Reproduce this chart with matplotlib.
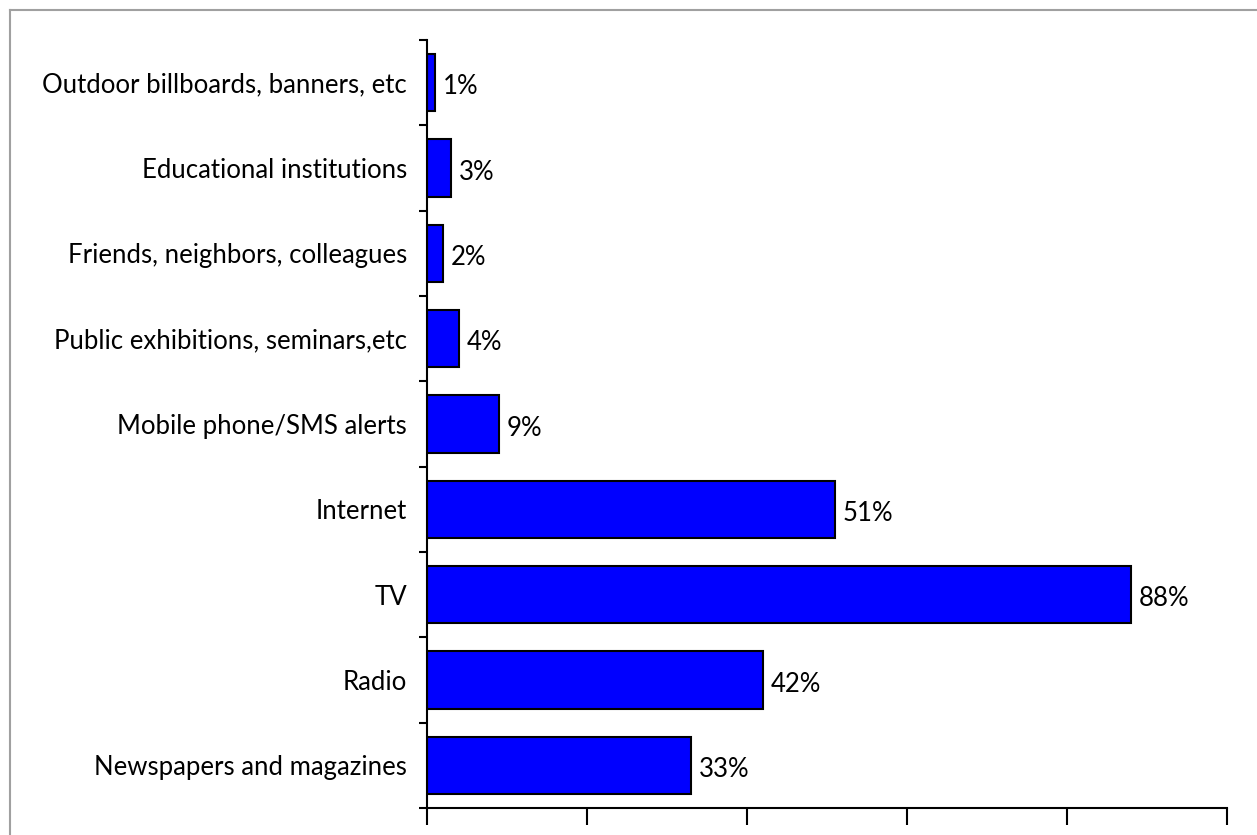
import matplotlib.pyplot as plt
from matplotlib.lines import Line2D
from matplotlib.transforms import ScaledTranslation

categories = ["Newspapers and magazines", "Radio", "TV", "Internet",
              "Mobile phone/SMS alerts", "Public exhibitions, seminars,etc",
              "Friends, neighbors, colleagues", "Educational institutions",
              "Outdoor billboards, banners, etc"]
values = [33, 42, 88, 51, 9, 4, 2, 3, 1]

plt.rcParams['font.family'] = ['Lato', 'DejaVu Sans']

W, H = 1257, 835
fig = plt.figure(figsize=(W / 100, H / 100), dpi=100)
ax = fig.add_axes([427 / W, 27 / H, 800 / W, 768 / H])

y = range(len(categories))
ax.barh(y, values, height=0.67, color="#0000ff", edgecolor="black", linewidth=1.5)
for i, v in enumerate(values):
    ax.annotate(f"{v}%", (v, i), xytext=(5.5, -3), textcoords="offset points",
                va="center", ha="left", fontsize=18.5)

ax.set_xlim(0, 100)
ax.set_ylim(-0.5, len(categories) - 0.5)
ax.set_xticks(range(0, 101, 20))
ax.set_xticklabels([])
ax.set_yticks([i - 0.5 for i in range(len(categories) + 1)])
ax.set_yticklabels([])
ax.set_yticks(list(y), minor=True)
ax.set_yticklabels(categories, minor=True, fontsize=18.5)
# nudge the category labels slightly down, like the original
shift = ScaledTranslation(0, -4 / 100, fig.dpi_scale_trans)
for lbl in ax.get_yticklabels(minor=True):
    lbl.set_transform(lbl.get_transform() + shift)
ax.tick_params(axis="y", which="minor", length=0, pad=14.5)
ax.tick_params(axis="y", which="major", length=6, width=1.5, direction="out")
ax.tick_params(axis="x", length=12, width=1.5, direction="out")
for s in ["top", "right"]:
    ax.spines[s].set_visible(False)
for s in ["left", "bottom"]:
    ax.spines[s].set_linewidth(1.5)

# grey frame around the chart area
fig.add_artist(Line2D([10 / W, 1], [1 - 10 / H, 1 - 10 / H], color="#a0a0a0", lw=1.5))
fig.add_artist(Line2D([10 / W, 10 / W], [0, 1 - 10 / H], color="#a0a0a0", lw=1.5))

fig.savefig("out.png", dpi=100)
